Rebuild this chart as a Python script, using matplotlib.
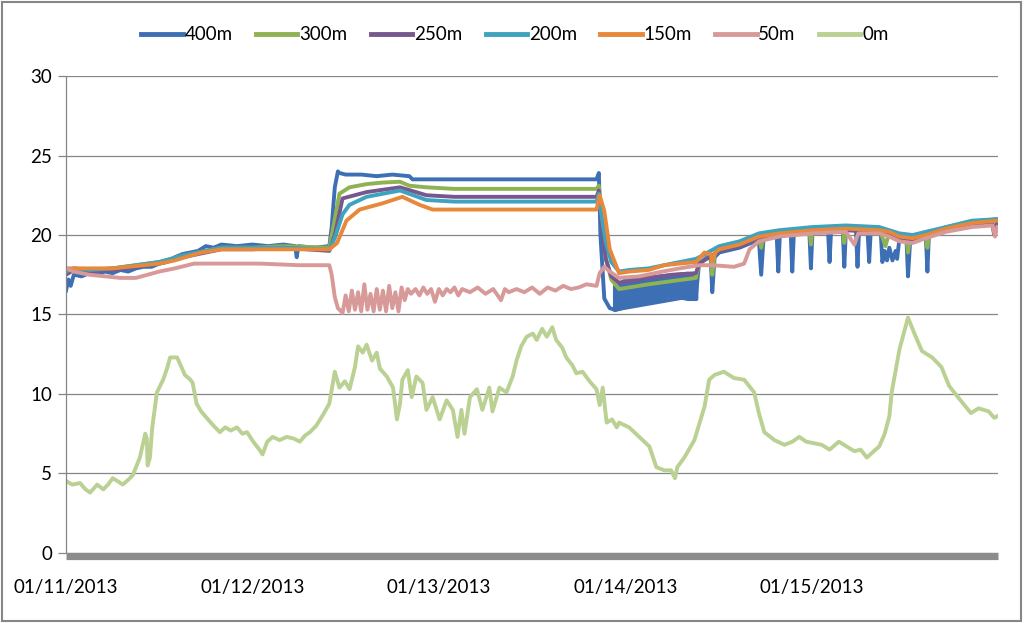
import matplotlib
matplotlib.use('Agg')
import matplotlib.pyplot as plt
from matplotlib.lines import Line2D
from matplotlib.patches import Rectangle

plt.rcParams['font.family'] = ['Lato', 'DejaVu Sans']

# x values are hours since 01/11/2013 00:00
day_ticks = [0, 24, 48, 72, 96]
day_labels = ['01/11/2013', '01/12/2013', '01/13/2013', '01/14/2013', '01/15/2013']
names = ['400m', '300m', '250m', '200m', '150m', '50m', '0m']
colors = ['#3D6FB5', '#8FB253', '#76588F', '#3EA3BE', '#E8883A', '#D79A98', '#BBD193']

# 400m
t_400 = [0, 0.3, 0.6, 1.0, 2, 3, 4, 5, 6, 7, 8, 9, 10, 11, 12, 13, 14, 15, 16, 17, 18, 19,
         20, 22, 24, 26, 28, 29.5, 29.7, 29.9, 32, 33.9, 34.2, 34.6, 35.0, 35.2, 36, 38, 40,
         42, 44.2, 44.6, 50, 55, 60, 65, 68.3, 68.6, 68.8, 69.3, 70.0, 70.6,
         81.1, 81.5, 82.5, 83.0, 83.2, 83.5, 84.1, 86.7, 89.2, 89.5, 89.8, 91.5, 91.7, 91.9,
         93.3, 93.5, 93.7, 95.7, 95.9, 96.1, 98.1, 98.3, 98.5, 100.0, 100.2, 100.4, 101.7,
         101.9, 102.1, 103.2, 103.4, 103.6, 104.9, 105.1, 105.4, 105.7, 106.0, 106.4, 106.8,
         107.0, 107.3, 108.2, 108.4, 108.7, 110.7, 110.9, 111.1, 113.3, 116.6, 119.2, 119.5, 119.9]
v_400 = [16.5, 17.2, 16.8, 17.5, 17.4, 17.6, 17.5, 17.7, 17.6, 17.8, 17.7, 17.9, 18.0, 18.0,
         18.2, 18.3, 18.6, 18.8, 18.9, 19.0, 19.3, 19.2, 19.4, 19.3, 19.4, 19.3, 19.4, 19.3,
         18.6, 19.3, 19.2, 19.3, 20.5, 23.0, 24.0, 23.9, 23.8, 23.8, 23.7, 23.8, 23.7, 23.5,
         23.5, 23.5, 23.5, 23.5, 23.5, 23.9, 20.0, 16.0, 15.4, 15.3,
         16.2, 18.2, 18.6, 18.5, 16.4, 18.6, 18.9, 19.2, 19.7, 17.5, 19.8, 19.9, 17.7, 20.0,
         20.1, 17.7, 20.1, 20.2, 17.9, 20.2, 20.3, 18.3, 20.3, 20.3, 18.0, 20.3, 20.3, 18.0,
         20.3, 20.2, 18.3, 20.2, 20.1, 18.3, 19.0, 18.4, 19.2, 18.4, 19.0, 18.5, 19.8, 19.8,
         17.4, 19.8, 19.9, 17.7, 20.1, 20.3, 20.7, 20.8, 20.3, 20.8]
band_t = [70.6, 72, 74, 76, 78, 80, 81.1]
band_lo = [15.3, 15.5, 15.7, 16.0, 16.2, 16.0, 16.0]
band_hi = [16.8, 17.2, 17.3, 17.4, 17.5, 17.6, 17.3]

# 300m
t_300 = [0, 1, 3, 6, 9, 12, 15, 18, 20, 24, 28, 33.9, 34.6, 35.2, 36.5, 38.7, 40.8, 43.0,
         44.2, 46.4, 50, 55, 60, 65, 68.3, 68.6, 69.0, 69.5, 70.2, 71.2, 72.5, 75, 78, 81.1,
         81.5, 83.0, 83.2, 83.5, 84.1, 86.7, 89.2, 89.5, 89.8, 91.8, 95.7, 95.9, 96.1, 100.0,
         100.2, 100.4, 104.7, 105.5, 106.0, 107.3, 108.2, 108.4, 108.7, 110.7, 110.9, 111.1,
         113.3, 116.6, 119.9]
v_300 = [17.6, 17.9, 17.8, 17.9, 18.1, 18.3, 18.7, 19.0, 19.2, 19.2, 19.3, 19.2, 21.0, 22.6,
         23.0, 23.2, 23.3, 23.35, 23.1, 23.0, 22.9, 22.9, 22.9, 22.9, 22.9, 23.1, 21.0, 18.5,
         17.2, 16.6, 16.7, 16.9, 17.1, 17.3, 18.2, 18.7, 17.5, 18.8, 19.2, 19.5, 20.0, 19.2,
         20.0, 20.2, 20.4, 19.4, 20.4, 20.4, 19.5, 20.4, 20.4, 19.3, 20.2, 20.0, 19.9, 18.9,
         19.9, 20.1, 19.2, 20.1, 20.5, 20.8, 21.0]

# 250m
t_250 = [0, 1, 3, 6, 9, 12, 15, 18, 20, 24, 28, 33.9, 34.6, 35.6, 38.7, 43.0, 46.4, 50, 55,
         60, 65, 68.3, 68.6, 69.0, 69.5, 70.2, 71.2, 72.5, 75, 78, 81.1, 81.5, 84.1, 86.7,
         89.2, 91.8, 96.1, 100.4, 104.7, 106.0, 107.3, 109.0, 110.7, 113.3, 116.6, 119.2,
         119.5, 119.9]
v_250 = [17.5, 17.8, 17.7, 17.8, 18.0, 18.2, 18.6, 18.9, 19.1, 19.1, 19.2, 19.0, 20.0, 22.3,
         22.7, 23.0, 22.5, 22.4, 22.4, 22.4, 22.4, 22.4, 22.8, 20.5, 18.5, 17.4, 17.0, 17.1,
         17.3, 17.5, 17.6, 18.2, 19.0, 19.3, 19.8, 20.1, 20.2, 20.3, 20.2, 20.0, 19.8, 19.7,
         19.9, 20.3, 20.6, 20.8, 20.0, 20.8]

# 200m
t_200 = [0, 1, 3, 6, 9, 12, 15, 18, 20, 24, 28, 33.9, 34.6, 35.6, 36.5, 38.7, 43.0, 46.4,
         50, 55, 60, 65, 68.3, 68.6, 69.0, 69.5, 70.2, 71.2, 72.5, 75, 78, 81.1, 81.5, 84.1,
         86.7, 89.2, 91.8, 96.1, 100.4, 104.7, 106.0, 107.3, 109.0, 110.7, 113.3, 116.6, 119.9]
v_200 = [17.7, 17.9, 17.8, 17.9, 18.1, 18.3, 18.7, 19.0, 19.2, 19.2, 19.2, 19.1, 19.8, 21.3,
         21.9, 22.4, 22.8, 22.2, 22.1, 22.1, 22.1, 22.1, 22.1, 22.6, 21.0, 19.5, 18.3, 17.7,
         17.8, 17.9, 18.2, 18.5, 18.6, 19.3, 19.6, 20.1, 20.3, 20.5, 20.6, 20.5, 20.3, 20.1,
         20.0, 20.2, 20.5, 20.9, 21.0]

# 150m
t_150 = [0, 3, 6, 8, 12, 14, 16, 17.5, 20, 24, 30, 33.9, 34.9, 36.1, 37.8, 40.8, 43.3, 45.5,
         47.2, 50, 55, 60, 65, 68.3, 68.7, 69.3, 70.0, 71.2, 72.5, 75, 77, 79, 81.1, 82.2,
         83.0, 83.2, 83.6, 84.1, 86.7, 89.2, 91.8, 96.1, 100.4, 104.7, 106.0, 107.3, 109.0,
         110.7, 113.3, 116.6, 119.9]
v_150 = [17.9, 17.9, 17.9, 18.0, 18.2, 18.4, 18.7, 18.9, 19.1, 19.1, 19.1, 19.1, 19.5, 20.9,
         21.6, 22.0, 22.4, 21.9, 21.6, 21.6, 21.6, 21.6, 21.6, 21.6, 22.5, 21.5, 19.1, 17.6,
         17.7, 17.8, 18.1, 18.2, 18.3, 18.9, 18.8, 18.3, 18.9, 19.1, 19.4, 19.9, 20.1, 20.3,
         20.4, 20.3, 20.2, 19.9, 19.8, 20.0, 20.4, 20.75, 20.9]

# 50m
t_50 = [0, 1, 3, 5, 7, 9, 10.5, 12, 14, 16.5, 20, 25, 30, 33.9, 34.2, 34.6, 35.0, 35.6,
        36.0, 36.4, 36.8, 37.2, 37.6, 38.0, 38.4, 38.8, 39.2, 39.6, 40.0, 40.4, 40.8, 41.2,
        41.6, 42.0, 42.4, 42.8, 43.2, 43.6, 44.0, 44.4, 45.0, 45.5, 46.0, 46.5, 47.0, 47.5,
        48.0, 48.5, 49.0, 49.5, 50.0, 50.5, 51.0, 52.0, 53.0, 54.0, 55.0, 56.0, 56.5, 57.0,
        58.0, 59.0, 60.0, 61.0, 62.0, 63.0, 64.0, 65.0, 66.0, 67.0, 68.3, 68.7, 69.3, 70.0,
        71.2, 73.8, 76.8, 79, 81.5, 83.2, 86.0, 87.3, 88.0, 89.2, 91.8, 96.1, 100.4, 101.5,
        102.0, 104.7, 106.0, 107.3, 109.0, 110.7, 113.3, 116.6, 119.3, 119.6, 119.9]
v_50 = [17.9, 17.7, 17.5, 17.4, 17.3, 17.3, 17.5, 17.7, 17.9, 18.2, 18.2, 18.2, 18.1, 18.1,
        17.5, 16.1, 15.4, 15.1, 16.2, 15.2, 16.5, 15.3, 16.4, 15.2, 16.9, 15.3, 16.3, 15.2,
        16.6, 15.3, 16.5, 15.2, 16.8, 15.4, 16.4, 15.2, 16.7, 15.9, 16.6, 16.3, 16.6, 16.2,
        16.7, 16.3, 16.6, 15.8, 16.6, 16.2, 16.6, 16.4, 16.7, 16.2, 16.6, 16.4, 16.7, 16.3,
        16.6, 15.9, 16.6, 16.4, 16.6, 16.4, 16.7, 16.3, 16.7, 16.5, 16.8, 16.6, 16.7, 16.9,
        16.8, 17.6, 18.0, 17.7, 17.3, 17.4, 17.7, 17.9, 18.1, 18.1, 18.0, 18.2, 19.1, 19.6,
        19.9, 20.1, 20.2, 19.4, 20.1, 20.1, 19.9, 19.6, 19.5, 19.8, 20.2, 20.5, 20.6, 19.9,
        20.5]

# 0m
t_0 = [0.1, 0.8, 1.8, 2.5, 3.1, 4.0, 4.8, 5.4, 6.0, 6.7, 7.3, 8.0, 8.6, 9.5, 10.2, 10.4,
       10.5, 10.8, 11.1, 11.7, 12.5, 13.0, 13.4, 14.3, 15.3, 16.0, 16.3, 16.8, 17.4, 18.1,
       19.0, 19.8, 20.5, 21.2, 22.0, 22.7, 23.3, 24.1, 24.9, 25.3, 25.9, 26.6, 27.5, 28.4,
       29.3, 30.1, 30.8, 31.4, 32.2, 33.1, 33.9, 34.6, 35.2, 35.9, 36.5, 37.2, 37.6, 38.2,
       38.7, 39.4, 40.0, 40.4, 41.3, 42.1, 42.6, 43.0, 43.3, 44.0, 44.5, 45.1, 45.9, 46.4,
       47.2, 48.1, 49.0, 49.8, 50.4, 50.9, 51.3, 52.0, 52.9, 53.6, 54.5, 54.9, 55.8, 56.7,
       57.5, 58.0, 58.6, 59.3, 60.1, 60.6, 61.3, 61.9, 62.6, 63.1, 63.9, 64.4, 65.2, 65.7,
       66.5, 67.4, 68.3, 68.7, 69.1, 69.6, 70.3, 70.9, 71.2, 72.5, 73.8, 75.1, 76.0, 77.0,
       77.9, 78.4, 78.7, 79.6, 80.9, 82.2, 82.8, 83.5, 84.7, 86.0, 87.3, 88.6, 89.2, 89.9,
       91.2, 92.5, 93.5, 94.4, 95.3, 96.3, 97.3, 98.3, 99.5, 100.5, 101.5, 102.3, 103.1,
       104.0, 104.7, 105.4, 106.0, 106.3, 107.3, 108.4, 109.4, 110.2, 111.5, 112.7, 113.7,
       115.0, 116.5, 117.5, 118.8, 119.5, 119.9]
v_0 = [4.5, 4.3, 4.4, 4.0, 3.8, 4.3, 4.0, 4.3, 4.7, 4.5, 4.3, 4.6, 4.9, 6.0, 7.5, 7.2,
       5.5, 6.0, 7.9, 10.1, 10.9, 11.6, 12.3, 12.3, 11.2, 10.9, 10.7, 9.4, 8.9, 8.5,
       8.0, 7.6, 7.9, 7.7, 7.9, 7.5, 7.6, 7.0, 6.5, 6.2, 7.0, 7.3, 7.1, 7.3,
       7.2, 7.0, 7.4, 7.6, 8.0, 8.7, 9.4, 11.4, 10.4, 10.8, 10.3, 11.7, 13.0, 12.6,
       13.1, 12.1, 12.6, 11.6, 11.1, 10.4, 8.4, 9.4, 10.9, 11.5, 9.8, 11.1, 10.7, 9.0,
       9.8, 8.4, 9.6, 9.0, 7.3, 9.0, 7.5, 9.8, 10.3, 9.0, 10.4, 8.9, 10.4, 10.1,
       11.1, 12.1, 13.0, 13.6, 13.8, 13.4, 14.1, 13.6, 14.2, 13.4, 12.9, 12.3, 11.8, 11.3,
       11.4, 10.8, 10.3, 9.3, 10.4, 8.2, 8.4, 7.9, 8.2, 7.9, 7.3, 6.7, 5.4, 5.2,
       5.2, 4.7, 5.4, 6.0, 7.1, 9.2, 10.9, 11.2, 11.4, 11.0, 10.9, 10.1, 8.8, 7.6,
       7.1, 6.8, 7.0, 7.3, 7.0, 6.9, 6.8, 6.5, 7.0, 6.7, 6.4, 6.5, 6.0,
       6.4, 6.7, 7.5, 8.6, 10.1, 12.8, 14.8, 13.6, 12.7, 12.3, 11.7, 10.5,
       9.7, 8.8, 9.1, 8.9, 8.5, 8.6]

series = [(t_400, v_400), (t_300, v_300), (t_250, v_250), (t_200, v_200),
          (t_150, v_150), (t_50, v_50), (t_0, v_0)]

fig = plt.figure(figsize=(10.24, 6.23), dpi=100)
ax = fig.add_axes([0.0645, 0.1124, 0.9102, 0.7656])

lw = 2.8
ax.fill_between(band_t, band_lo, band_hi, color=colors[0], lw=lw, zorder=2)
for (t, v), c in zip(series, colors):
    ax.plot(t, v, color=c, lw=lw, solid_joinstyle='round', zorder=2)

ax.set_xlim(0, 120)
ax.set_ylim(0, 30)
ax.set_yticks(range(0, 31, 5))
ax.set_xticks(day_ticks)
ax.set_xticklabels(day_labels)
ax.yaxis.grid(True, color='#868686', lw=0.9)
ax.set_axisbelow(True)
for s in ['top', 'right']:
    ax.spines[s].set_visible(False)
ax.spines['left'].set_color('#868686')
ax.spines['left'].set_linewidth(0.9)
ax.spines['bottom'].set_color('#8C8C8C')
ax.spines['bottom'].set_linewidth(5.2)
ax.spines['bottom'].set_capstyle('butt')
ax.spines['bottom'].set_position(('outward', 2.5))
ax.tick_params(axis='y', length=6, width=0.9, color='#868686', pad=4, labelsize=13.5)
ax.tick_params(axis='x', length=0, pad=16, labelsize=13.5)

handles = [Line2D([], [], color=c, lw=3.5) for c in colors]
fig.legend(handles, names, loc='center', bbox_to_anchor=(0.503, 0.944), ncol=7,
           frameon=False, fontsize=13.5, handlelength=2.2, handletextpad=0.1,
           columnspacing=1.25)

fig.add_artist(Rectangle((0.002, 0.003), 0.995, 0.994, transform=fig.transFigure,
                         fill=False, edgecolor='#868686', lw=1.5))

fig.savefig('out.png', dpi=100)
